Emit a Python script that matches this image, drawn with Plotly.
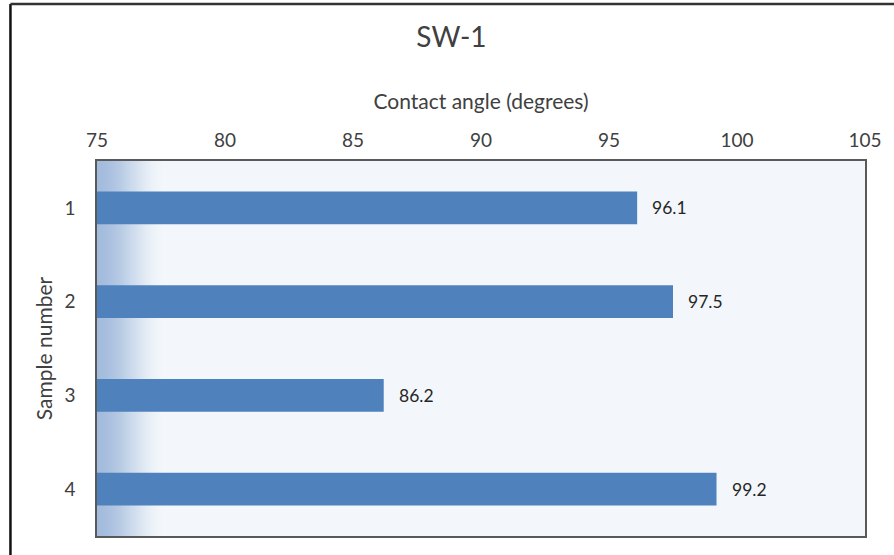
import plotly.graph_objects as go

# Contact angle measurements for sample set SW-1
samples = [1, 2, 3, 4]
contact_angle = [96.1, 97.5, 86.2, 99.2]
x_ticks = [75, 80, 85, 90, 95, 100, 105]

W, H = 894, 555
L, R, T, B = 97, 25, 161, 19
pw, ph = W - L - R, H - T - B

font_family = "Lato, 'Open Sans', sans-serif"
text_color = "#404040"
bar_color = "#4F81BD"
bg_rgb = (243, 247, 251)
edge_rgb = (164, 188, 221)

fig = go.Figure()
fig.add_trace(go.Bar(
    x=contact_angle,
    y=samples,
    orientation="h",
    base=0,
    marker=dict(color=bar_color, line=dict(width=0)),
    width=0.35,
    hoverinfo="x+y",
))

# value labels beside each bar
for s, v in zip(samples, contact_angle):
    fig.add_annotation(
        x=v, y=s, xref="x", yref="y",
        text=f"{v:.1f}", showarrow=False,
        xanchor="left", yanchor="middle", xshift=13,
        font=dict(size=17.5, color="#262626", family=font_family),
    )

# soft blue shading along the left edge of the plot area (opaque steps)
n_steps = 70
grad_w = 0.09
for i in range(n_steps):
    t = i / (n_steps - 1)
    k = 1 - (3 * t * t - 2 * t * t * t)
    c = [round(bg + (e - bg) * k) for bg, e in zip(bg_rgb, edge_rgb)]
    fig.add_shape(
        type="rect", xref="paper", yref="paper", layer="below",
        x0=grad_w * i / n_steps, x1=grad_w * (i + 1) / n_steps + 0.002,
        y0=0, y1=1,
        fillcolor=f"rgb({c[0]},{c[1]},{c[2]})", line=dict(width=0),
    )

# chart frame lines (left and top)
fx0 = (10 - L) / pw
fy1 = 1 + (T - 4) / ph
fig.add_shape(type="line", xref="paper", yref="paper",
              x0=fx0, x1=fx0, y0=-1, y1=fy1,
              line=dict(color="#111111", width=2.5))
fig.add_shape(type="line", xref="paper", yref="paper",
              x0=fx0, x1=1.2, y0=fy1, y1=fy1,
              line=dict(color="#333333", width=2.5))

fig.update_layout(
    width=W, height=H,
    margin=dict(l=L, r=R, t=T, b=B),
    paper_bgcolor="white",
    plot_bgcolor="rgb(%d,%d,%d)" % bg_rgb,
    showlegend=False,
    font=dict(family=font_family, color=text_color, size=19),
    title=dict(
        text="SW-1", x=0.505, xanchor="center",
        y=1 - 37 / H, yanchor="middle",
        font=dict(size=28, color=text_color, family=font_family),
    ),
    bargap=0.65,
)

fig.update_xaxes(
    side="top", range=[75, 105], tickvals=x_ticks,
    showgrid=False, zeroline=False,
    showline=True, linecolor="#595959", linewidth=1.5, mirror=True,
    ticks="outside", ticklen=5, tickcolor="rgba(0,0,0,0)",
    tickfont=dict(size=19, color=text_color),
    title=dict(text="Contact angle (degrees)", standoff=12,
               font=dict(size=21, color=text_color)),
)
fig.update_yaxes(
    range=[4.5, 0.5], tickvals=samples,
    showgrid=False, zeroline=False,
    showline=True, linecolor="#595959", linewidth=1.5, mirror=True,
    ticks="outside", ticklen=16, tickcolor="rgba(0,0,0,0)",
    tickfont=dict(size=19, color=text_color),
    title=dict(text="Sample number", standoff=6,
               font=dict(size=21, color=text_color)),
)

fig.write_html("out.html")
